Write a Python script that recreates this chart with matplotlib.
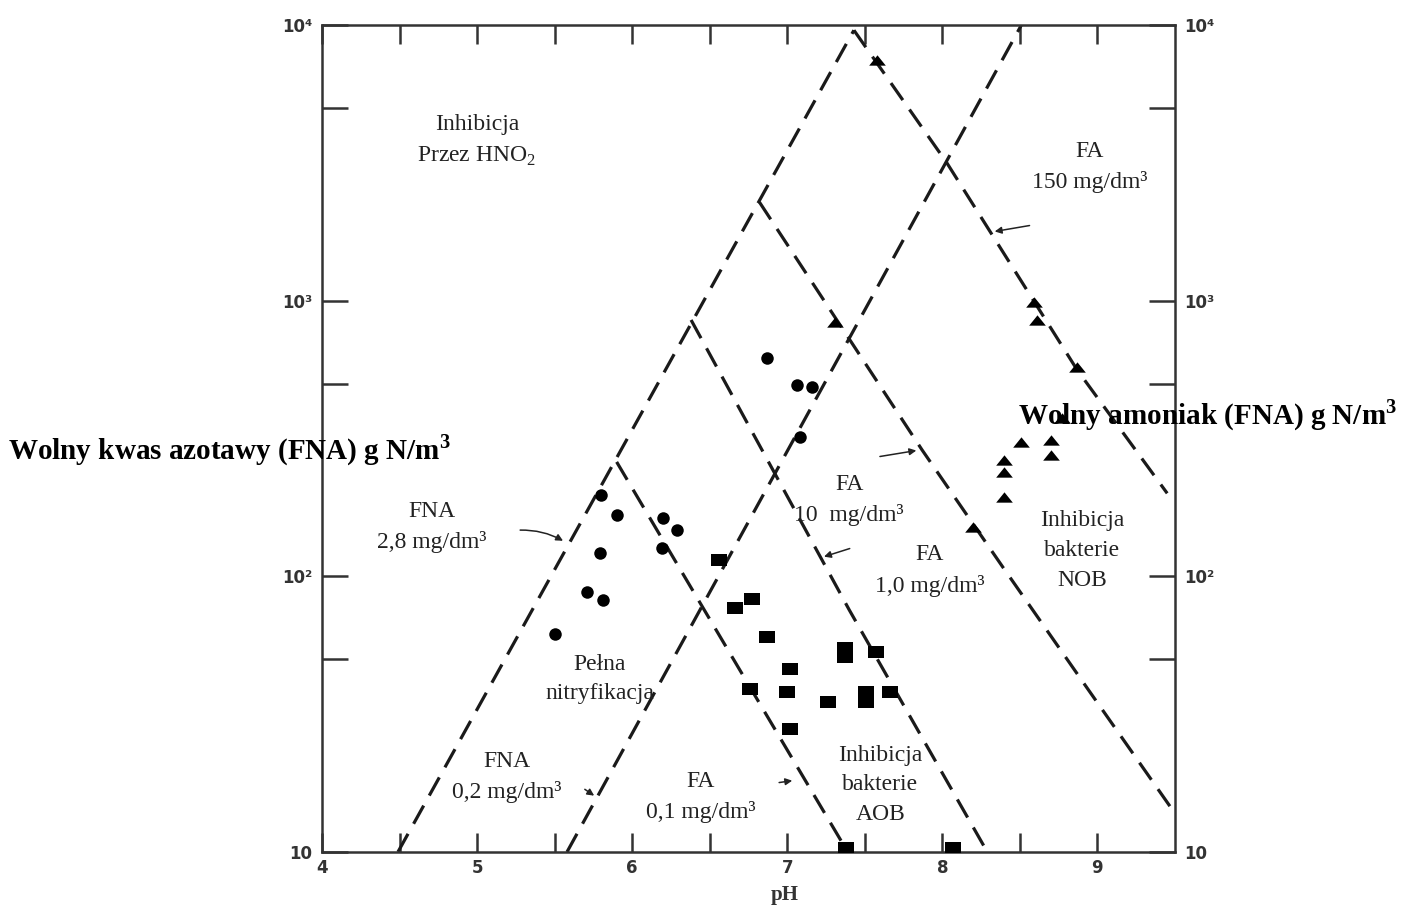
import numpy as np
import matplotlib
matplotlib.use('Agg')
from matplotlib import pyplot as plt

plt.rcParams['mathtext.fontset'] = 'custom'
plt.rcParams['mathtext.rm'] = 'Liberation Serif'
plt.rcParams['mathtext.bf'] = 'Liberation Serif:bold'

## dashed boundary lines, (pH, mg N/l)
fna_28_ph = [4.49, 7.43]
fna_28_val = [10, 9570]
fna_02_ph = [5.58, 8.51]
fna_02_val = [10, 10000]
fa_01_ph = [5.90, 6.76, 7.39]
fa_01_val = [260, 39.6, 10]
fa_1_ph = [6.38, 7.40, 8.29]
fa_1_val = [851, 75.5, 10]
fa_10_ph = [6.82, 7.87, 8.39, 8.93, 9.50]
fa_10_val = [2280, 287, 108, 39.6, 13.8]
fa_150_ph = [7.43, 8.03, 8.87, 9.45]
fa_150_val = [9570, 3155, 560, 200]

## measured points
circ_ph = [6.87, 7.06, 7.16, 7.08, 5.80, 5.90, 6.20, 6.29, 5.79, 6.19, 5.71, 5.81, 5.50]
circ_val = [619, 494, 486, 320, 197, 167, 163, 147, 122, 127, 88, 82, 62]

sq_ph = [6.56, 6.66, 6.77, 6.87, 7.37, 7.37, 7.57, 7.02, 6.76, 7.00, 7.26, 7.51, 7.51,
         7.66, 7.02, 7.38, 8.07]
sq_val = [115, 77, 83, 60, 55, 51, 53, 46, 39, 38, 35, 38, 35, 38, 28, 10.3, 10.3]

tri_ph = [7.58, 7.31, 8.59, 8.61, 8.87, 8.77, 8.51, 8.70, 8.70, 8.40, 8.40, 8.40, 8.20]
tri_val = [7460, 836, 989, 851, 574, 375, 307, 312, 275, 264, 239, 194, 151]

x_major = [4, 5, 6, 7, 8, 9]
x_minor = [4.5, 5.5, 6.5, 7.5, 8.5]
y_major = [10, 100, 1000, 10000]
y_major_lab = ['10', '10²', '10³', '10⁴']
y_minor = [50, 500, 5000]

fig = plt.figure(figsize=(14.09, 9.08), dpi=100)
ax = fig.add_axes([0.2285, 0.0617, 0.6054, 0.9108])
ax.set_yscale('log')
ax.set_xlim(4, 9.5)
ax.set_ylim(10, 10000)

dash = dict(color='#1a1a1a', lw=2.3, dashes=(6.5, 3.6), zorder=2)
for xs, ys in [(fna_28_ph, fna_28_val), (fna_02_ph, fna_02_val),
               (fa_01_ph, fa_01_val), (fa_1_ph, fa_1_val),
               (fa_10_ph, fa_10_val), (fa_150_ph, fa_150_val)]:
    ax.plot(xs, ys, **dash)

rect = [(-1.35, -1), (1.35, -1), (1.35, 1), (-1.35, 1)]
tri = [(-1, -0.62), (1, -0.62), (0, 0.62)]
ax.plot(circ_ph, circ_val, 'o', color='black', ms=9, mew=0, zorder=3)
ax.plot(sq_ph, sq_val, ls='none', marker=rect, color='black', ms=12, mew=0, zorder=3)
ax.plot(tri_ph, tri_val, ls='none', marker=tri, color='black', ms=12, mew=0, zorder=3)

# ticks
ax.set_xticks(x_major)
ax.set_xticklabels([str(v) for v in x_major])
ax.set_xticks(x_minor, minor=True)
ax.set_yticks(y_major)
ax.set_yticklabels(y_major_lab)
ax.set_yticks(y_minor, ['', '', ''], minor=True)
ax.tick_params(which='both', direction='in', top=True, right=True,
               labelright=True, width=1.8, color='#333333')
ax.tick_params(axis='x', which='both', length=14, pad=5)
ax.tick_params(axis='y', which='both', length=19, pad=7)
for lab in ax.get_xticklabels() + ax.get_yticklabels():
    lab.set_fontweight('bold')
    lab.set_fontsize(12)
    lab.set_color('#333333')
for t in ax.yaxis.get_major_ticks():
    t.label2.set_fontweight('bold')
    t.label2.set_fontsize(12)
    t.label2.set_color('#333333')
for s in ax.spines.values():
    s.set_linewidth(1.8)
    s.set_color('#333333')

# region / line labels
txt = dict(family='Liberation Serif', fontsize=17, color='#222222',
           ha='center', va='center', linespacing=1.55)
ax.text(5.0, 3790, 'Inhibicja\nPrzez HNO$_2$', **txt)
ax.text(8.95, 3055, 'FA\n150 mg/dm³', **txt)
ax.text(4.71, 151, 'FNA\n2,8 mg/dm³', **txt)
ax.text(7.40, 189, 'FA\n10  mg/dm³', **txt)
ax.text(7.92, 105, 'FA\n1,0 mg/dm³', **txt)
ax.text(8.90, 124, 'Inhibicja\nbakterie\nNOB', **txt)
ax.text(5.79, 42.4, 'Pełna\nnitryfikacja', **txt)
ax.text(5.19, 18.7, 'FNA\n0,2 mg/dm³', **txt)
ax.text(6.44, 15.8, 'FA\n0,1 mg/dm³', **txt)
ax.text(7.60, 17.5, 'Inhibicja\nbakterie\nAOB', **txt)

arr = dict(arrowstyle='-|>', color='#222222', lw=1.1, mutation_scale=10)
ax.annotate('', xy=(5.57, 133), xytext=(5.26, 147),
            arrowprops=dict(arr, connectionstyle='arc3,rad=-0.15'))
ax.annotate('', xy=(8.32, 1775), xytext=(8.58, 1880), arrowprops=arr)
ax.annotate('', xy=(7.85, 287), xytext=(7.58, 271), arrowprops=arr)
ax.annotate('', xy=(7.22, 117), xytext=(7.42, 127), arrowprops=arr)
ax.annotate('', xy=(7.05, 18.2), xytext=(6.93, 17.8), arrowprops=arr)
ax.annotate('', xy=(5.77, 15.8), xytext=(5.68, 17.1), arrowprops=arr)

# axis titles
fig.text(0.0057, 0.504, 'Wolny kwas azotawy (FNA) g N/m$^\\mathbf{3}$',
         family='Liberation Serif', fontweight='bold', fontsize=21,
         ha='left', va='center')
fig.text(0.7225, 0.543, 'Wolny amoniak (FNA) g N/m$^\\mathbf{3}$',
         family='Liberation Serif', fontweight='bold', fontsize=21,
         ha='left', va='center')
fig.text(0.557, 0.0143, 'pH', family='Liberation Serif', fontweight='bold',
         fontsize=15, color='#333333', ha='center', va='center')

plt.savefig('out.png', dpi=100)
